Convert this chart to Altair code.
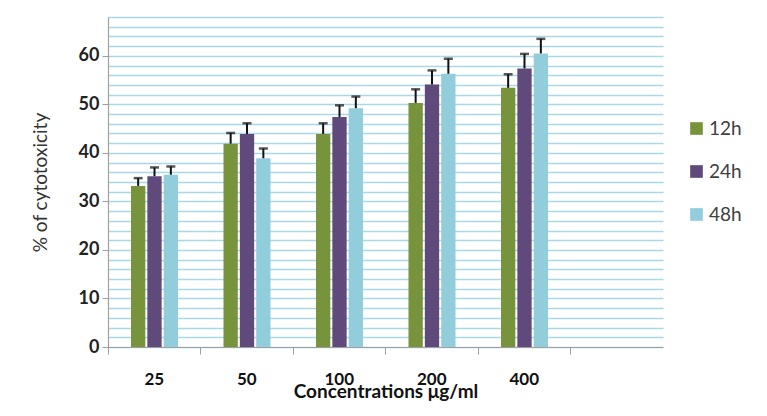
import altair as alt
import pandas as pd

categories = ["25", "50", "100", "200", "400"]
series = ["12h", "24h", "48h"]
vals_12h = [33.2, 41.9, 43.9, 50.3, 53.4]
vals_24h = [35.2, 43.9, 47.4, 54.1, 57.4]
vals_48h = [35.5, 38.9, 49.2, 56.3, 60.5]
err_12h = [1.6, 2.2, 2.2, 2.8, 2.8]
err_24h = [1.8, 2.2, 2.4, 2.9, 3.0]
err_48h = [1.7, 2.0, 2.4, 3.1, 3.0]
colors = ["#77933C", "#604A7B", "#92CDDC"]
y_ticks = list(range(0, 69, 2))

rows = []
for s, vals, errs in zip(series, [vals_12h, vals_24h, vals_48h], [err_12h, err_24h, err_48h]):
    for c, v, e in zip(categories, vals, errs):
        rows.append({"conc": c, "time": s, "value": v, "top": round(v + e, 2)})
df = pd.DataFrame(rows)

x_domain = categories + [" "]

x_enc = alt.X(
    "conc:N",
    scale=alt.Scale(domain=x_domain, paddingInner=0, paddingOuter=0),
    title="Concentrations μg/ml",
    axis=alt.Axis(
        bandPosition=0,
        labelAngle=0,
        labelPadding=17,
        labelFont="Lato",
        labelFontSize=17,
        labelFontWeight="bold",
        labelColor="#111111",
        domainColor="#a0a0a0",
        domainWidth=1.2,
        tickColor="#a0a0a0",
        tickSize=7,
        titleFont="Liberation Sans Narrow, Lato",
        titleFontSize=19,
        titleFontWeight="bold",
        titleColor="#111111",
        titlePadding=-5,
        grid=False,
    ),
)
xoff = alt.XOffset(
    "time:N",
    scale=alt.Scale(domain=series, range=[23, 70], paddingInner=0.125, paddingOuter=0),
)
y_axis = alt.Axis(
    values=y_ticks,
    grid=True,
    gridColor="#a9d8e7",
    gridWidth=1.3,
    labelExpr="datum.value % 10 === 0 ? datum.label : ''",
    tickOpacity={"condition": {"test": "datum.value % 10 === 0", "value": 1}, "value": 0},
    tickColor="#a0a0a0",
    tickSize=6,
    labelPadding=3,
    labelFont="Lato",
    labelFontSize=18,
    labelFontWeight="bold",
    labelColor="#222222",
    domainColor="#a0a0a0",
    domainWidth=1.2,
    titleFont="Lato",
    titleFontSize=19,
    titleFontWeight="normal",
    titleColor="#333333",
    titlePadding=28,
)
y_scale = alt.Scale(domain=[0, 68], nice=False)

base = alt.Chart(df)

bars = base.mark_bar().encode(
    x=x_enc,
    xOffset=xoff,
    y=alt.Y("value:Q", scale=y_scale, axis=y_axis, title="% of cytotoxicity"),
    color=alt.Color(
        "time:N",
        scale=alt.Scale(domain=series, range=colors),
        legend=alt.Legend(
            title=None,
            orient="none",
            legendX=579,
            legendY=102,
            symbolType="square",
            symbolSize=160,
            symbolStrokeWidth=0,
            labelFont="Lato",
            labelFontSize=19,
            labelColor="#404040",
            labelOffset=3,
            rowPadding=23,
            padding=0,
        ),
    ),
)

stems = base.mark_rule(color="#111111", strokeWidth=2).encode(
    x=x_enc,
    xOffset=xoff,
    y=alt.Y("value:Q", scale=y_scale, axis=y_axis, title="% of cytotoxicity"),
    y2="top:Q",
)

caps = base.mark_tick(color="#111111", thickness=2.5, size=9, orient="horizontal").encode(
    x=x_enc,
    xOffset=xoff,
    y=alt.Y("top:Q", scale=y_scale, axis=y_axis, title="% of cytotoxicity"),
)

chart = (
    alt.layer(bars, stems, caps)
    .properties(
        width=555,
        height=330,
        autosize=alt.AutoSizeParams(type="none"),
        padding={"left": 100, "top": 9, "right": 96, "bottom": 61},
        background="white",
    )
    .configure_view(stroke=None)
)

chart.save("out.html", embed_options={"renderer": "svg", "actions": False})
